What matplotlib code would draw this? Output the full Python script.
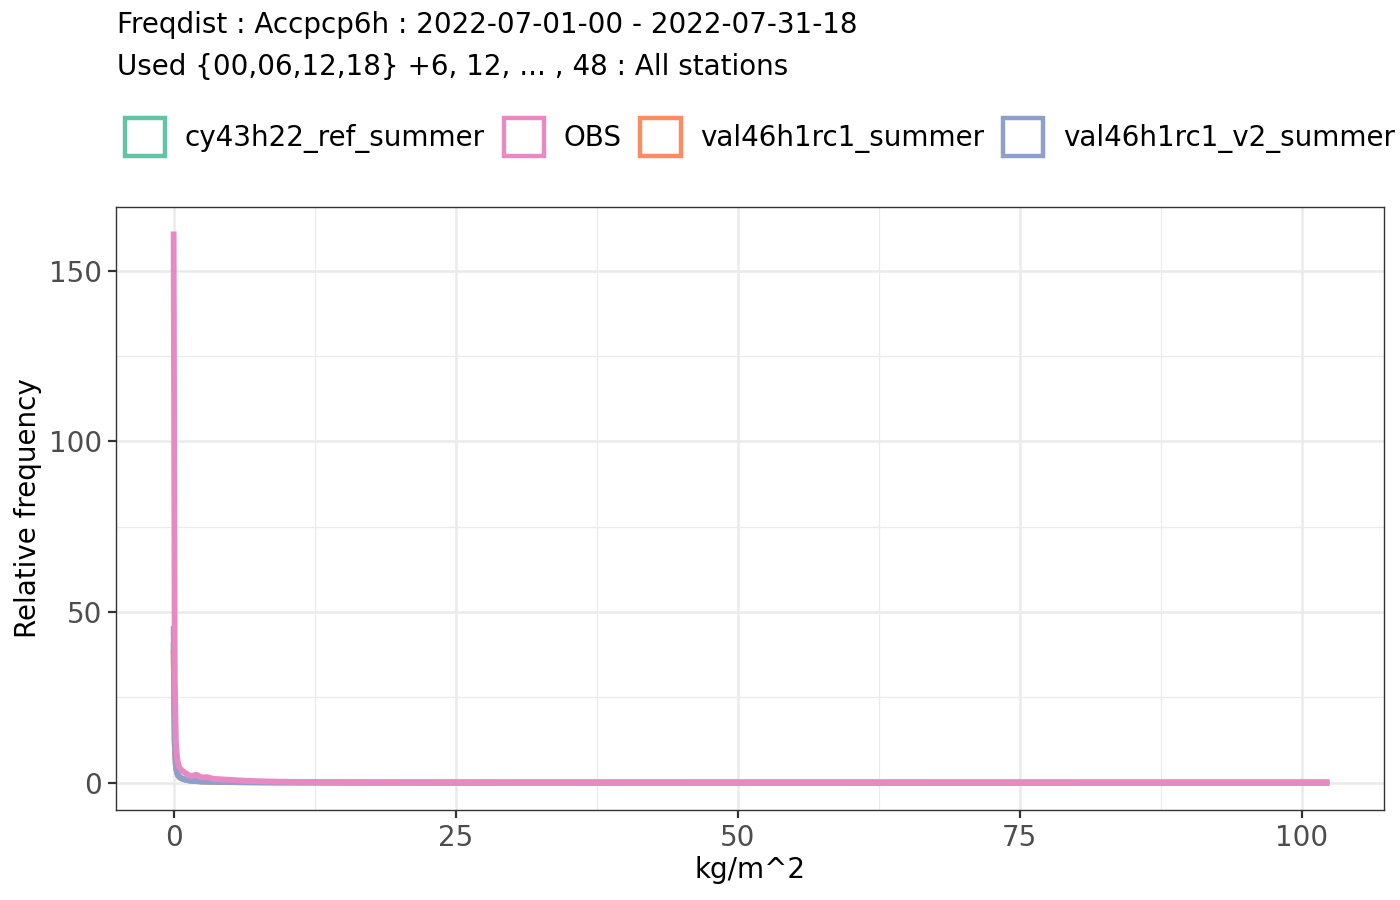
import matplotlib
matplotlib.use('Agg')
import matplotlib.pyplot as plt
from matplotlib.patches import Patch
from matplotlib.ticker import MultipleLocator

# ------------------------------------
# Datos
# ------------------------------------
x_bins = [0.0, 0.1, 0.2, 0.3, 0.4, 0.5, 0.7, 1.0, 1.3, 1.6, 2.0, 2.5, 3.0,
          3.5, 4.0, 5.0, 6.0, 8.0, 10.0, 15.0, 20.0, 30.0, 40.0, 60.0, 80.0, 102.2]

freq_cy43 = [40.0, 11.0, 4.5, 2.8, 2.0, 1.6, 1.2, 0.85, 0.65, 0.5, 0.42, 0.33, 0.28,
             0.23, 0.19, 0.14, 0.11, 0.07, 0.05, 0.02, 0.01, 0.005, 0.002, 0.001, 0.0, 0.0]
freq_obs = [160.6, 30.0, 12.0, 7.5, 5.5, 4.5, 3.6, 2.9, 2.2, 1.9, 2.3, 1.5, 1.6,
            1.1, 1.0, 0.8, 0.6, 0.35, 0.22, 0.1, 0.05, 0.02, 0.01, 0.005, 0.002, 0.001]
freq_val46 = [38.0, 11.5, 4.7, 2.9, 2.1, 1.7, 1.25, 0.9, 0.68, 0.52, 0.44, 0.34, 0.29,
              0.24, 0.2, 0.15, 0.12, 0.08, 0.05, 0.02, 0.01, 0.005, 0.002, 0.001, 0.0, 0.0]
freq_val46_v2 = [45.0, 12.0, 5.0, 3.0, 2.2, 1.8, 1.3, 0.9, 0.7, 0.55, 0.45, 0.35, 0.3,
                 0.25, 0.2, 0.15, 0.12, 0.08, 0.05, 0.02, 0.01, 0.005, 0.002, 0.001, 0.0, 0.0]

modelos = ['cy43h22_ref_summer', 'OBS', 'val46h1rc1_summer', 'val46h1rc1_v2_summer']
colores = {
    'cy43h22_ref_summer': '#66C2A5',
    'OBS': '#E78AC3',
    'val46h1rc1_summer': '#FC8D62',
    'val46h1rc1_v2_summer': '#8DA0CB',
}
series = {
    'cy43h22_ref_summer': freq_cy43,
    'OBS': freq_obs,
    'val46h1rc1_summer': freq_val46,
    'val46h1rc1_v2_summer': freq_val46_v2,
}

titulo = 'Freqdist : Accpcp6h : 2022-07-01-00 - 2022-07-31-18'
subtitulo = 'Used {00,06,12,18} +6, 12, ... , 48 : All stations'

# ------------------------------------
# Graficar
# ------------------------------------
fig = plt.figure(figsize=(14, 9), dpi=100)
ax = fig.add_axes([116 / 1400, 1 - 810 / 900, (1384 - 116) / 1400, (810 - 207) / 900])

# OBS al final para que quede encima
orden = ['cy43h22_ref_summer', 'val46h1rc1_summer', 'val46h1rc1_v2_summer', 'OBS']
for m in orden:
    ax.plot(x_bins, series[m], color=colores[m], linewidth=4.2,
            solid_joinstyle='round', zorder=3)

xmax = max(x_bins)
ymax = max(freq_obs)
ax.set_xlim(-0.05 * xmax, 1.05 * xmax)
ax.set_ylim(-0.05 * ymax, 1.05 * ymax)

ax.xaxis.set_major_locator(MultipleLocator(25))
ax.xaxis.set_minor_locator(MultipleLocator(12.5))
ax.yaxis.set_major_locator(MultipleLocator(50))
ax.yaxis.set_minor_locator(MultipleLocator(25))

ax.grid(True, which='major', color='#EBEBEB', linewidth=1.8, zorder=0)
ax.grid(True, which='minor', color='#EBEBEB', linewidth=0.9, zorder=0)
ax.set_axisbelow(True)

for s in ax.spines.values():
    s.set_color('#333333')
    s.set_linewidth(1.0)

ax.tick_params(which='major', length=6, width=1.6, color='#333333',
               labelcolor='#4D4D4D', labelsize=20, pad=4)
ax.tick_params(which='minor', length=0)

ax.set_xlabel('kg/m^2', fontsize=20, color='black', labelpad=3)
ax.set_ylabel('Relative frequency', fontsize=20, color='black', labelpad=5)

fig.text(117 / 1400, 1 - 25 / 900, titulo, fontsize=20, va='center', ha='left')
fig.text(117 / 1400, 1 - 67 / 900, subtitulo, fontsize=20, va='center', ha='left')

handles = [Patch(facecolor='white', edgecolor=colores[m], linewidth=3.2, label=m)
           for m in modelos]
fig.legend(handles=handles, loc='center left', bbox_to_anchor=(125 / 1400, 1 - 137 / 900),
           ncol=4, frameon=False, fontsize=20, handlelength=1.45, handleheight=1.7,
           handletextpad=0.7, columnspacing=0.68, borderaxespad=0, borderpad=0)

fig.savefig('out.png', dpi=100)
